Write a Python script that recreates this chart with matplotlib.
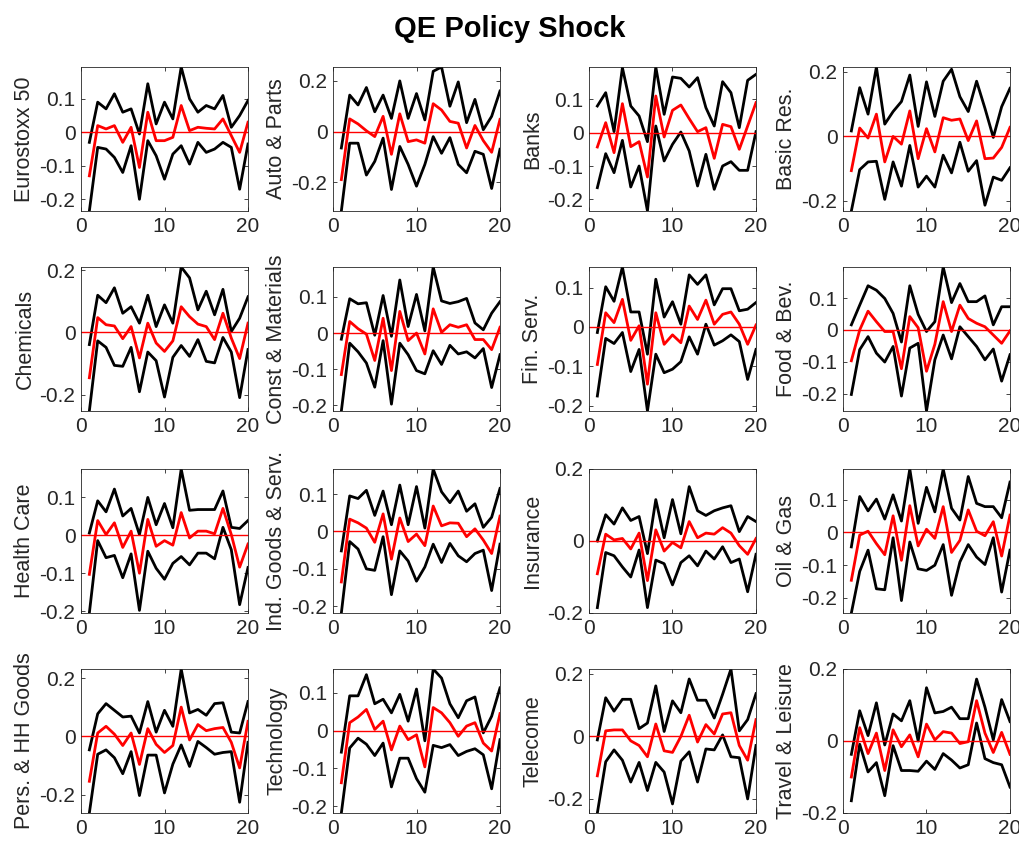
import matplotlib.pyplot as plt
from matplotlib.ticker import MultipleLocator, FuncFormatter

plt.rcParams['font.family'] = ['Liberation Sans', 'DejaVu Sans']
plt.rcParams['axes.unicode_minus'] = False

horizon = list(range(1, 21))

# upper band / response / lower band for each sector
euro_hi = [-0.03, 0.09, 0.07, 0.115, 0.06, 0.07, -0.005, 0.145, 0.025, 0.09, 0.04, 0.195, 0.10, 0.06, 0.08, 0.07, 0.11, 0.015, 0.05, 0.095]
euro_irf = [-0.13, 0.02, 0.01, 0.02, -0.03, 0.015, -0.105, 0.06, -0.025, -0.025, -0.015, 0.08, 0.005, 0.015, 0.012, 0.01, 0.04, -0.01, -0.06, 0.03]
euro_lo = [-0.235, -0.045, -0.05, -0.075, -0.12, -0.04, -0.2, -0.025, -0.07, -0.14, -0.065, -0.04, -0.095, -0.03, -0.06, -0.05, -0.03, -0.045, -0.17, -0.035]

auto_hi = [-0.065, 0.144, 0.105, 0.174, 0.078, 0.144, 0.052, 0.2, 0.052, 0.15, 0.046, 0.238, 0.255, 0.10, 0.196, 0.035, 0.127, 0.007, 0.06, 0.16]
auto_irf = [-0.19, 0.05, 0.03, 0.003, -0.02, 0.06, -0.09, 0.07, -0.04, -0.033, -0.046, 0.11, 0.085, 0.04, 0.033, -0.065, 0.024, -0.036, -0.082, 0.048]
auto_lo = [-0.314, -0.046, -0.046, -0.172, -0.118, -0.026, -0.229, -0.059, -0.13, -0.216, -0.13, -0.02, -0.086, -0.024, -0.13, -0.163, -0.078, -0.09, -0.225, -0.07]

banks_hi = [0.08, 0.12, 0.003, 0.195, 0.08, 0.05, -0.027, 0.197, 0.055, 0.167, 0.163, 0.137, 0.165, 0.075, 0.02, 0.153, 0.12, 0.015, 0.157, 0.175]
banks_irf = [-0.043, 0.03, -0.06, 0.087, -0.042, -0.027, -0.133, 0.11, -0.013, 0.067, 0.083, 0.042, 0.003, 0.015, -0.077, 0.025, 0.018, -0.05, 0.02, 0.09]
banks_lo = [-0.165, -0.063, -0.12, -0.023, -0.163, -0.1, -0.235, 0.02, -0.085, -0.035, 0.002, -0.055, -0.16, -0.065, -0.17, -0.1, -0.087, -0.113, -0.113, 0.003]

basic_hi = [0.017, 0.151, 0.069, 0.215, 0.038, 0.077, 0.108, 0.19, 0.031, 0.169, 0.062, 0.171, 0.208, 0.123, 0.077, 0.171, 0.087, -0.003, 0.092, 0.149]
basic_irf = [-0.106, 0.026, -0.005, 0.069, -0.079, 0.0, -0.024, 0.079, -0.069, 0.024, -0.048, 0.058, 0.05, 0.054, -0.013, 0.048, -0.069, -0.067, -0.034, 0.028]
basic_lo = [-0.231, -0.103, -0.079, -0.077, -0.195, -0.079, -0.154, -0.028, -0.157, -0.123, -0.157, -0.058, -0.113, -0.018, -0.108, -0.075, -0.213, -0.126, -0.136, -0.097]

chem_hi = [-0.039, 0.12, 0.096, 0.144, 0.062, 0.083, 0.03, 0.12, 0.019, 0.089, 0.03, 0.211, 0.176, 0.073, 0.133, 0.057, 0.139, 0.003, 0.046, 0.115]
chem_irf = [-0.146, 0.048, 0.025, 0.021, -0.02, 0.019, -0.082, 0.03, -0.034, -0.061, -0.027, 0.083, 0.051, 0.027, 0.019, -0.023, 0.062, -0.018, -0.084, 0.03]
chem_lo = [-0.253, -0.027, -0.048, -0.106, -0.109, -0.048, -0.191, -0.063, -0.091, -0.208, -0.08, -0.042, -0.077, -0.023, -0.093, -0.098, -0.016, -0.063, -0.21, -0.055]

const_hi = [-0.017, 0.095, 0.081, 0.084, -0.006, 0.104, -0.009, 0.147, 0.018, 0.107, 0.006, 0.183, 0.089, 0.082, 0.087, 0.096, 0.028, 0.009, 0.055, 0.087]
const_irf = [-0.115, 0.032, 0.012, -0.003, -0.076, 0.041, -0.104, 0.06, -0.021, 0.0, -0.058, 0.067, 0.002, 0.023, 0.016, 0.023, -0.018, -0.018, -0.046, 0.016]
const_lo = [-0.216, -0.028, -0.052, -0.083, -0.15, -0.021, -0.197, -0.028, -0.06, -0.104, -0.113, -0.049, -0.087, -0.034, -0.058, -0.052, -0.069, -0.043, -0.151, -0.06]

fin_hi = [-0.014, 0.102, 0.065, 0.152, 0.038, 0.038, -0.069, 0.121, 0.025, 0.064, 0.007, 0.132, 0.108, 0.132, 0.056, 0.097, 0.097, 0.041, 0.045, 0.062]
fin_irf = [-0.095, 0.036, 0.011, 0.07, -0.034, 0.003, -0.145, 0.036, -0.044, -0.02, -0.04, 0.053, 0.019, 0.068, 0.007, 0.032, 0.038, 0.007, -0.044, 0.005]
fin_lo = [-0.175, -0.029, -0.042, -0.014, -0.113, -0.057, -0.213, -0.069, -0.116, -0.107, -0.088, -0.025, -0.069, 0.007, -0.046, -0.035, -0.02, -0.037, -0.133, -0.057]

food_hi = [0.016, 0.078, 0.139, 0.125, 0.099, 0.052, -0.038, 0.139, 0.049, -0.005, 0.026, 0.198, 0.086, 0.146, 0.089, 0.089, 0.107, 0.016, 0.073, 0.073]
food_irf = [-0.097, 0.0, 0.059, 0.026, -0.005, -0.005, -0.122, 0.042, 0.007, -0.13, -0.045, 0.089, -0.005, 0.078, 0.036, 0.021, 0.01, -0.016, -0.042, -0.003]
food_lo = [-0.203, -0.062, -0.021, -0.073, -0.101, -0.052, -0.208, -0.057, -0.042, -0.255, -0.094, -0.016, -0.091, 0.01, -0.021, -0.052, -0.094, -0.06, -0.161, -0.078]

health_hi = [0.006, 0.091, 0.062, 0.122, 0.051, 0.071, 0.002, 0.1, 0.028, 0.084, 0.02, 0.175, 0.066, 0.068, 0.068, 0.068, 0.117, 0.021, 0.018, 0.039]
health_irf = [-0.103, 0.039, 0.002, 0.033, -0.032, 0.011, -0.1, 0.042, -0.029, -0.014, -0.026, 0.06, -0.007, 0.011, 0.011, 0.004, 0.071, 0.002, -0.084, -0.023]
health_lo = [-0.205, -0.014, -0.059, -0.053, -0.112, -0.049, -0.198, -0.042, -0.087, -0.116, -0.074, -0.056, -0.078, -0.047, -0.047, -0.062, 0.021, -0.038, -0.183, -0.085]

ind_hi = [-0.052, 0.095, 0.088, 0.11, 0.043, 0.108, 0.018, 0.124, 0.018, 0.12, 0.009, 0.167, 0.106, 0.077, 0.108, 0.054, 0.074, 0.011, 0.038, 0.115]
ind_irf = [-0.135, 0.033, 0.023, 0.009, -0.029, 0.047, -0.074, 0.036, -0.027, -0.007, -0.038, 0.068, 0.015, 0.023, 0.022, -0.014, 0.007, -0.023, -0.059, 0.041]
ind_lo = [-0.218, -0.027, -0.047, -0.1, -0.104, -0.014, -0.169, -0.052, -0.079, -0.133, -0.095, -0.034, -0.083, -0.032, -0.065, -0.081, -0.059, -0.05, -0.158, -0.034]

ins_hi = [0.0, 0.073, 0.047, 0.092, 0.057, 0.068, -0.035, 0.115, 0.009, 0.115, 0.02, 0.151, 0.084, 0.071, 0.084, 0.092, 0.098, 0.026, 0.068, 0.054]
ins_irf = [-0.091, 0.019, 0.003, 0.007, -0.022, 0.022, -0.11, 0.031, -0.028, -0.004, -0.019, 0.054, 0.009, 0.022, 0.019, 0.037, 0.022, -0.013, -0.037, 0.007]
ins_lo = [-0.185, -0.032, -0.041, -0.072, -0.1, -0.025, -0.185, -0.053, -0.063, -0.122, -0.06, -0.041, -0.069, -0.028, -0.05, -0.016, -0.06, -0.05, -0.141, -0.037]

oil_hi = [-0.044, 0.11, 0.066, 0.102, 0.041, 0.115, 0.035, 0.194, 0.028, 0.138, 0.063, 0.194, 0.074, 0.038, 0.171, 0.089, 0.079, 0.079, 0.045, 0.154]
oil_irf = [-0.146, -0.008, 0.004, -0.034, -0.068, 0.051, -0.085, 0.082, -0.041, 0.01, -0.018, 0.079, -0.061, -0.024, 0.069, 0.004, -0.01, 0.033, -0.072, 0.053]
oil_lo = [-0.246, -0.119, -0.054, -0.172, -0.175, -0.016, -0.208, -0.029, -0.111, -0.116, -0.1, -0.037, -0.192, -0.09, -0.037, -0.075, -0.098, -0.016, -0.182, -0.054]

pers_hi = [-0.046, 0.078, 0.113, 0.09, 0.067, 0.07, 0.012, 0.12, 0.015, 0.09, 0.035, 0.232, 0.081, 0.093, 0.073, 0.113, 0.116, 0.015, 0.012, 0.12]
pers_irf = [-0.154, 0.012, 0.035, 0.008, -0.031, 0.012, -0.096, 0.027, -0.027, -0.055, -0.031, 0.101, -0.012, 0.041, 0.02, 0.027, 0.031, -0.02, -0.108, 0.052]
pers_lo = [-0.263, -0.061, -0.046, -0.073, -0.128, -0.052, -0.203, -0.064, -0.064, -0.194, -0.095, -0.029, -0.103, -0.017, -0.038, -0.061, -0.055, -0.052, -0.226, -0.02]

tech_hi = [-0.057, 0.092, 0.092, 0.148, 0.071, 0.083, 0.047, 0.096, 0.025, 0.11, -0.027, 0.163, 0.139, 0.071, 0.034, 0.079, 0.089, -0.006, 0.038, 0.113]
tech_irf = [-0.138, 0.021, 0.036, 0.056, 0.003, 0.025, -0.051, 0.012, -0.024, -0.011, -0.096, 0.061, 0.047, 0.021, -0.015, 0.012, 0.021, -0.033, -0.054, 0.045]
tech_lo = [-0.218, -0.046, -0.02, -0.036, -0.066, -0.033, -0.149, -0.073, -0.073, -0.127, -0.163, -0.039, -0.045, -0.037, -0.066, -0.055, -0.048, -0.064, -0.154, -0.024]

tel_hi = [-0.011, 0.124, 0.081, 0.119, 0.119, 0.025, 0.043, 0.162, 0.016, 0.114, 0.076, 0.184, 0.116, 0.116, 0.059, 0.135, 0.216, 0.018, 0.054, 0.137]
tel_irf = [-0.126, 0.018, 0.021, 0.021, -0.014, -0.029, -0.065, 0.04, -0.046, -0.051, 0.0, 0.068, -0.018, 0.038, 0.008, 0.072, 0.076, -0.029, -0.076, 0.054]
tel_lo = [-0.245, -0.081, -0.043, -0.076, -0.146, -0.083, -0.173, -0.083, -0.114, -0.216, -0.079, -0.049, -0.146, -0.04, -0.043, 0.005, -0.065, -0.068, -0.2, -0.029]

travel_hi = [-0.037, 0.084, 0.015, 0.106, -0.011, 0.075, 0.056, 0.112, 0.0, 0.148, 0.078, 0.082, 0.094, 0.062, 0.062, 0.172, 0.094, 0.003, 0.115, 0.054]
travel_irf = [-0.1, 0.037, -0.035, 0.022, -0.082, 0.031, -0.016, 0.017, -0.044, 0.047, 0.003, 0.026, 0.022, -0.007, -0.002, 0.112, 0.022, -0.032, 0.024, -0.037]
travel_lo = [-0.166, -0.009, -0.086, -0.06, -0.152, -0.013, -0.082, -0.082, -0.084, -0.056, -0.079, -0.035, -0.053, -0.075, -0.066, 0.05, -0.049, -0.06, -0.066, -0.128]

sectors = ['Eurostoxx 50', 'Auto & Parts', 'Banks', 'Basic Res.',
           'Chemicals', 'Const & Materials', 'Fin. Serv.', 'Food & Bev.',
           'Health Care', 'Ind. Goods & Serv.', 'Insurance', 'Oil & Gas',
           'Pers. & HH Goods', 'Technology', 'Telecome', 'Travel & Leisure']
panels = [(euro_hi, euro_irf, euro_lo), (auto_hi, auto_irf, auto_lo),
          (banks_hi, banks_irf, banks_lo), (basic_hi, basic_irf, basic_lo),
          (chem_hi, chem_irf, chem_lo), (const_hi, const_irf, const_lo),
          (fin_hi, fin_irf, fin_lo), (food_hi, food_irf, food_lo),
          (health_hi, health_irf, health_lo), (ind_hi, ind_irf, ind_lo),
          (ins_hi, ins_irf, ins_lo), (oil_hi, oil_irf, oil_lo),
          (pers_hi, pers_irf, pers_lo), (tech_hi, tech_irf, tech_lo),
          (tel_hi, tel_irf, tel_lo), (travel_hi, travel_irf, travel_lo)]

tick_step = [0.1, 0.2, 0.1, 0.2, 0.2, 0.1, 0.1, 0.1,
             0.1, 0.1, 0.2, 0.1, 0.2, 0.1, 0.2, 0.2]
fixed_ylim = {'Insurance': (-0.2, 0.2), 'Travel & Leisure': (-0.2, 0.2)}

W, H = 1020, 841
fig = plt.figure(figsize=(W / 100, H / 100), dpi=100)
fig.suptitle('QE Policy Shock', fontsize=21, fontweight='bold',
             y=1 - 29 / H, va='center')

lefts = [81, 333, 589, 843]
tops = [67, 267, 469, 669]
aw, ah = 167, 144
fmt = FuncFormatter(lambda v, p: '%g' % round(v, 3))

for k, name in enumerate(sectors):
    r, c = divmod(k, 4)
    ax = fig.add_axes([lefts[c] / W, 1 - (tops[r] + ah) / H, aw / W, ah / H])
    hi, irf, lo = panels[k]
    ax.plot(horizon, hi, color='k', lw=2)
    ax.plot(horizon, lo, color='k', lw=2)
    ax.axhline(0, color='r', lw=1)
    ax.plot(horizon, irf, color='r', lw=2)
    ax.set_xlim(0, 20)
    ax.set_ylim(fixed_ylim.get(name, (min(lo), max(hi))))
    ax.xaxis.set_major_locator(MultipleLocator(10))
    ax.yaxis.set_major_locator(MultipleLocator(tick_step[k]))
    ax.yaxis.set_major_formatter(fmt)
    ax.tick_params(direction='in', top=True, right=True, length=3, width=0.6,
                   labelsize=15, colors='#262626', pad=4)
    for s in ax.spines.values():
        s.set_linewidth(0.6)
        s.set_color('#262626')
    ax.set_ylabel(name, fontsize=15.5, color='#262626', labelpad=3)

plt.savefig('out.png', dpi=100)
